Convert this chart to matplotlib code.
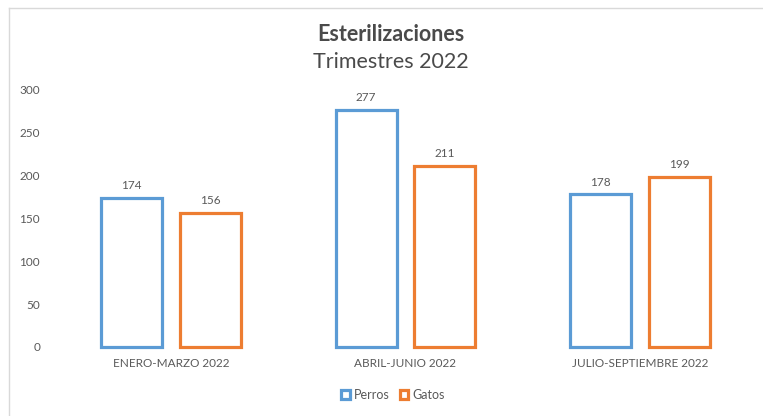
import numpy as np
import matplotlib
matplotlib.use("Agg")
import matplotlib.pyplot as plt
from matplotlib.lines import Line2D
from matplotlib.patches import Patch

# ---------------------------------------------------------------------------
# Data
# ---------------------------------------------------------------------------
trimestres = ["ENERO-MARZO 2022", "ABRIL-JUNIO 2022", "JULIO-SEPTIEMBRE 2022"]
perros = [174, 277, 178]
gatos = [156, 211, 199]
y_ticks = [0, 50, 100, 150, 200, 250, 300]

BLUE = "#5B9BD5"
ORANGE = "#ED7D31"
GRAY = "#595959"

plt.rcParams["font.family"] = ["Lato", "DejaVu Sans"]

fig = plt.figure(figsize=(7.63, 4.16), dpi=100)
ax = fig.add_axes([0.0708, 0.1659, 0.9212, 0.6178])

x = np.arange(len(trimestres))
width = 0.26
offset = 0.168

bars_p = ax.bar(x - offset, perros, width, facecolor="white", edgecolor=BLUE,
                linewidth=2.3, label="Perros", clip_on=False)
bars_g = ax.bar(x + offset, gatos, width, facecolor="white", edgecolor=ORANGE,
                linewidth=2.3, label="Gatos", clip_on=False)

for bars in (bars_p, bars_g):
    ax.bar_label(bars, padding=5, fontsize=8.5, color=GRAY)

ax.set_xlim(-0.5, len(trimestres) - 0.5)
ax.set_ylim(0, 300)
ax.set_yticks(y_ticks)
ax.set_xticks(x)
ax.set_xticklabels(trimestres)
ax.tick_params(axis="both", length=0, colors=GRAY, labelsize=8.5)
ax.tick_params(axis="y", pad=10)
ax.tick_params(axis="x", pad=8)
for s in ax.spines.values():
    s.set_visible(False)

# titles
fig.text(0.512, 0.917, "Esterilizaciones", ha="center", va="center",
         fontsize=15.5, fontweight="bold", color="#4a4a4a")
fig.text(0.512, 0.85, "Trimestres 2022", ha="center", va="center",
         fontsize=15.5, color="#4a4a4a")

# legend
handles = [Patch(facecolor="white", edgecolor=BLUE, linewidth=2.3, label="Perros"),
           Patch(facecolor="white", edgecolor=ORANGE, linewidth=2.3, label="Gatos")]
fig.legend(handles=handles, loc="center", bbox_to_anchor=(0.515, 0.05), ncol=2,
           frameon=False, fontsize=9, labelcolor=GRAY, handlelength=0.7,
           handleheight=0.7, handletextpad=0.3, columnspacing=0.8)

# chart area border (top and left edges visible)
fig.add_artist(Line2D([9 / 763, 1], [1 - 8 / 416] * 2, transform=fig.transFigure,
                      color="#D9D9D9", linewidth=1))
fig.add_artist(Line2D([9 / 763] * 2, [0, 1 - 8 / 416], transform=fig.transFigure,
                      color="#D9D9D9", linewidth=1))

fig.savefig("out.png", dpi=100)
plt.close()
